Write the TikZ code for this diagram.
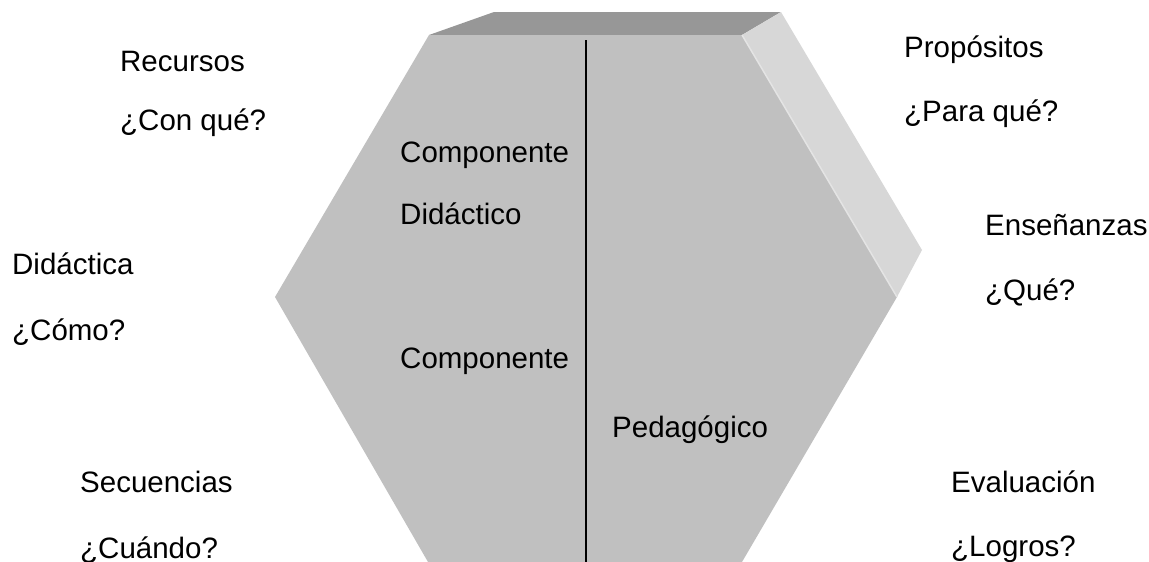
\documentclass[tikz,border=0pt]{standalone}
\usepackage{fontspec}
\setmainfont{Liberation Sans}
\usetikzlibrary{positioning}

\definecolor{frontgray}{RGB}{192,192,192}
\definecolor{topgray}{RGB}{151,151,151}
\definecolor{sidegray}{RGB}{215,215,215}
\definecolor{edgegray}{RGB}{228,228,228}

\begin{document}
\begin{tikzpicture}[x=1pt, y=-1pt,
  txt/.style={anchor=base west, inner sep=0pt, font=\fontsize{29.5}{35}\selectfont}]

  \useasboundingbox (0,0) rectangle (1149,562);

  % Hexagon corners
  \def\topy{35}
  \def\midy{297}
  \def\boty{562}

  % === Top face
  \fill[topgray] (429,\topy) -- (494,12) -- (781,12) -- (742,\topy) -- cycle;

  % === Right side face
  \fill[sidegray] (742,\topy) -- (781,12) -- (922,250) -- (897,\midy) -- cycle;

  % === Front face
  \fill[frontgray]
    (429,\topy) --
    (742,\topy) --
    (897,\midy) --
    (742,\boty) --
    (428,\boty) --
    (275,\midy) -- cycle;

  % Light edge between front and side
  \draw[edgegray, line width=1.5] (742,\topy) -- (897,\midy);

  % Divider
  \coordinate (divtop) at (586,40);
  \coordinate (divbot) at (586,\boty);
  \draw[line width=2] (divtop) -- (divbot);

  % Labels inside
  \node[txt] (compa) at (400,162) {Componente};
  \node[txt] (didactico) at (400,224) {Didáctico};
  \node[txt] (compb) at (400,368) {Componente};
  \node[txt] (pedagogico) at (612,437) {Pedagógico};

  % Labels left
  \node[txt] (recursos) at (120,71) {Recursos};
  \node[txt] (conque) at (120,130) {¿Con qué?};
  \node[txt] (didactica) at (12,274) {Didáctica};
  \node[txt] (como) at (12,340) {¿Cómo?};
  \node[txt] (secuencias) at (80,492) {Secuencias};
  \node[txt] (cuando) at (80,558) {¿Cuándo?};

  % Labels right
  \node[txt] (propositos) at (904,57) {Propósitos};
  \node[txt] (paraque) at (904,121) {¿Para qué?};
  \node[txt] (ensenanzas) at (985,235) {Enseñanzas};
  \node[txt] (que) at (985,300) {¿Qué?};
  \node[txt] (evaluacion) at (951,492) {Evaluación};
  \node[txt] (logros) at (951,556) {¿Logros?};

\end{tikzpicture}
\end{document}
